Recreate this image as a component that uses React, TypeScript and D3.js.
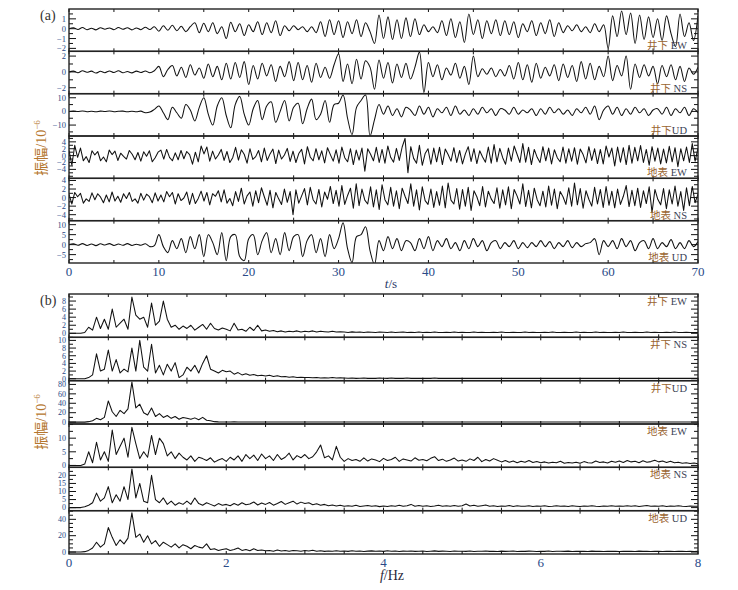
import React from 'react';
import * as d3 from 'd3';

// ---- waveforms, 0-70 s (values x10^-6) ----
const wellEW = [
  0, 0.1, -0.08, 0.12, -0.1, 0.05, -0.12, 0.1, -0.05, 0.08, -0.1, 0.12, -0.06, 0.1, -0.12, 0.08, -0.1, 0.15, -0.08,
  0.2, -0.25, 0.3, -0.15, 0.35, -0.2, 0.25, -0.3,
  0.2, 0.6, -0.4, 0.55, -0.3, 0.6, -0.5, 0.2, -1.0, 0.65, -0.3, 0.5, -0.7, 0.4,
  -0.3, 0.7, -0.6, 0.6, -0.4, 0.8, -0.7,
  0.3, -0.2, 0.3, -0.1, 0.2, -0.3, 0.2,
  -0.4, 0.7, -0.8, 0.9, -0.6, 0.8, -0.9, 0.7, -0.5, 0.9, -0.8, 0.6,
  -0.3, -1.5, 1.4, -1.0,
  1.2, -1.1, 0.9, -1.0, 1.1, -0.8, 1.0, -0.6, 0.4,
  -0.3, 0.2, -0.4,
  0.8, -0.7, 1.0, -0.9, 0.7, -1.4, 1.5, -0.6, 0.9, -1.0, 0.8, -0.5, 0.9, -0.7,
  0.8, -0.6, 0.7, -0.9, 0.5, -0.3, 0.8, -0.7, 0.6, -0.5, 0.9, -0.8, 0.6, -0.4,
  0.3, -0.2, 0.4, -0.3, 0.2, -0.4,
  0.5, -0.3, 0.4,
  -2.0,
  1.3, -0.8, 1.8, -0.6, 1.6, -1.5, 1.4, -1.1, 1.2, -0.9, 1.0, -1.2, 1.3, -0.5,
  -1.8, 1.5, -0.8, 0.6, -1.2, 1.3,
];

const wellNS = [
  0, 0.1, -0.1, 0.15, -0.05, 0.1, -0.15, 0.08, -0.1, 0.12, -0.08, 0.15, -0.1, 0.05, -0.12, 0.1, -0.08, 0.12, -0.1, 0.15,
  0.7, -0.6, 0.3, 0.8, -0.5, 0.6, -0.7, 0.9, -0.4, 0.5, -0.8, 1.0, -0.6, 0.7, -1.0, 1.1, -0.9, 1.2, -0.7, 1.3, -1.6,
  0.8, -0.9, 1.1, -0.5, 0.9, -1.2, 0.7, -0.6, 1.3, -1.1, 1.2, -1.0, 0.8, -1.3, 1.1, -0.7, 0.6, -0.8, 0.9,
  2.3,
  -1.2, 1.0, -1.5, 1.6, -0.9, 1.4, 0.6, -2.2,
  1.5, -0.8, 1.2, -1.4, 1.0, -0.7, 1.1, -0.9, 0.6,
  2.5, -2.6,
  1.2, -0.6, 0.9, -1.0, 0.5, -0.4, 1.1, -0.8, 0.7, -1.6,
  2.0,
  -0.6, 0.4, -0.3, 0.5, -0.6, 0.3, -0.5, 0.8, -0.9,
  1.2, -1.0, 0.9, -1.3, 1.1, -0.8, 0.6, -0.5, 0.9, -1.1, 1.0, -0.7, 0.8, -1.2, 1.3, -0.9, 1.1, -1.0, 0.7, -0.6,
  2.0,
  -1.1, 0.8, -0.5, 2.0,
  -2.2,
  1.0, -0.7, 0.9, -0.5, 0.7, -1.5, 0.8, -0.6, 0.9, -1.0, 0.7, -1.2, 0.5, -0.3, 0.6,
];

const wellUD = [
  0, 0.2, -0.1, 0.3, -0.2, 0.1, -0.3, 0.2, -0.1, 0.3, -0.2, 0.1, 0.2, -0.3, 0.1, -0.2, 0.2,
  -1.0, -0.5, 1.5,
  4, -1, -6, 3, -1, -5, 5, 1, -7,
  3, 10, -2, -10, 4, 10, -3, -12, 5, 11, -2, -10,
  2, 8, -6, 4, 7, -8, 0, 8, -7, 3, 6, -9, 2, 9, -6, -2, 8, -8, 5,
  6, 12, -5, -17, 3, 8, 12, -18, -6, 5, -2,
  4, -3, 2, -4, 3, 1, -3, 4, -2, 3, -4, 2, -1, 3, -3, 4, -2, 1, -3, 2,
  -2, 3, -1, 2, -3, 2, 1, -2, 3, -2, 1, -1, 2, -3, 2, -2, 3, -1, 2, -2, 1, -3, 2, -1, 3, -2,
  4, -6, 1, 4, -2, 3,
  -3, 2, -2, 3, -1, 2, -3, 1, 2, -2, 3, -3, 2, -1, 3, -3, 2, -1,
];

const surfEW = [
  1.5, -2.8, 3.0, -0.5, 2.2, -1.5, -0.3, -2.0, 1.4, 0.2,
  1.2, -1.5, -0.4, -1.8, 1.6, 0.3, 1.3, -1.4, 0.7, -0.2,
  -1.0, 1.5, 0.4, -1.2, 0.9, -1.6, 1.1, -0.2, 1.4, -1.8,
  -0.6, 1.0, 1.6, -1.0, 1.8, -0.5, -1.5, 0.8, -1.2, 1.5,
  -0.9, 1.2, 0.3, -2.5, 1.0, -1.8, 2.8, 0.5, 2.5, -1.6,
  1.3, -1.0, 0.2, 1.8, -1.4, 1.2, -2.0, -0.6, 2.4, -1.3,
  1.7, 0.4, -2.2, 2.0, -1.1, -0.3, 1.5, -1.8, 2.2, -1.4,
  0.5, 1.9, -2.3, 1.6, -1.0, 0.2, 2.1, -1.7, 1.3, -2.0,
  0.6, 1.8, -2.4, 2.6, -0.4, -1.5, 2.0, -1.2, 1.4, -2.1,
  2.3, 0.3, -1.6, 1.7, -2.2, 2.5, -0.6, -1.8, 2.0, -2.6,
  1.6, -1.3, 2.2, -4.5, 2.0, 0.4, -1.5, 2.4, -2.0, 1.8,
  -2.2, 2.8, -0.5, -1.9, 2.1, -1.4, 2.5, 5.0, -5.0, 2.6,
  -0.8, -2.2, 3.0, -2.8, 0.6, 2.0, -2.5, 2.2, -1.8, 2.4,
  -2.6, 1.9, 0.3, -1.6, 2.3, -2.0, 1.5, -2.4, 0.5, 2.6,
  -1.7, 2.0, -2.3, 1.4, -0.4, -1.9, 2.5, -2.2, 3.2, -1.8,
  2.1, -0.6, -2.5, 2.2, -1.6, 2.8, 0.4, -2.0, 3.5, -1.9,
  2.4, -2.6, 1.8, -0.5, -2.0, 2.6, -1.5, 2.2, -2.4, 1.7,
  -0.6, -1.8, 2.5, -2.2, 2.0, -1.6, 2.3, -2.5, 1.9, 0.3,
  -2.1, 2.6, -1.4, 2.0, -2.3, 1.8, -2.4, 2.8, -0.4, 2.2,
  -3.0, 2.5, -1.9, 2.3, -2.6, 3.0, -2.2, 2.4, -1.5, 2.9,
  -2.0, 1.8, -2.8, 2.6, -1.6, 2.2, -2.4, 1.9, -2.1, 2.7,
  -1.8, 2.3, -3.2, 2.0, -1.5, 2.5, -2.0, 3.5, -1.6, 2.2,
];

const surfNS = [
  0.8, -1.5, 1.2, 0.2, 1.0, -1.3, -0.3, -0.9, 1.1, -0.5,
  0.9, 0.1, -1.2, 0.6, -1.0, 1.3, -0.8, 0.3, -1.1, 0.9,
  -0.2, 1.2, -0.9, -0.3, -1.3, 1.0, -0.6, 0.8, 0.2, -1.2,
  1.1, -0.8, 0.6, -1.0, 1.4, 0.2, 1.2, -1.5, 0.9, -0.7,
  -0.1, 1.3, -1.6, 1.0, -1.4, -0.2, 1.5, -0.8, 1.2, -1.7,
  0.9, 0.3, 1.6, -1.0, 1.8, -1.3, -0.2, -1.9, 1.4, -0.9,
  2.2, -1.5, 0.4, 1.3, -2.0, 1.6, -1.2, 2.3, 0.2, -1.8,
  1.7, -2.4, 1.2, -0.3, -1.6, 2.0, -1.1, 1.4, -4.0, 1.8,
  -1.3, 0.4, 2.1, -1.7, 2.4, -0.5, -1.5, 1.9, -2.2, 1.3,
  -0.4, 2.6, -1.4, 1.7, -2.0, 2.8, -1.6, 0.5, 2.2, -2.5,
  3.2, -1.9, 2.0, -0.6, -1.5, 2.5, -2.2, 1.8, -2.8, 3.0,
  -0.5, -1.7, 2.4, -2.0, 1.6, -2.6, 2.2, 0.3, -1.4, 3.2,
  -2.0, 1.8, -2.9, 2.5, -0.7, -1.6, 2.0, -2.3, 1.4, -1.8,
  2.7, -2.4, 3.4, -0.6, -1.5, 2.1, -2.7, 1.9, -2.0, 2.4,
  -3.0, 1.6, 0.2, -1.9, 2.6, -2.2, 1.5, -0.3, -1.4, 2.3,
  -2.5, 1.8, -1.7, 2.5, -2.6, 1.9, 0.4, -1.5, 3.2, -2.1,
  1.7, -2.4, 2.2, -0.5, -1.9, 1.5, -2.2, 2.7, -1.8, 2.0,
  -2.6, 1.4, 0.2, -1.6, 2.3, -2.0, 3.4, -1.7, 2.1, -2.5,
  1.6, -0.4, -2.0, 2.4, -1.5, 1.9, -2.3, 2.6, -1.8, 1.5,
  -2.4, 2.0, -1.6, 0.3, 2.8, -2.1, 1.7, -1.9, 2.2, -2.3,
  1.6, -1.4, 2.5, -3.5, 1.9, -0.4, -1.7, 2.1, -2.6, 1.8,
  -1.5, 2.7, -2.0, 1.4, -3.0, 2.3, -1.9, 2.6, -1.2, 0.8,
];

const surfUD = [
  0, 0.4, -0.3, 0.5, -0.4, 0.3, -0.5, 0.4, -0.2, 0.5, -0.4, 0.3, -0.3, 0.5, -0.4, 0.2, -0.3, 0.4,
  -1.0, -0.5,
  5, -1, -4, 2, -2, 3, -4, 4, -2, 5, -6, 5, 1, -5, 6, -8, 4, 5, -6, -8, 3,
  5, -5, 2, 6, -4, 3, -5, 6, -3, 4, 5, -6, 2, 5, -4, 3, -6, 5, -2, 3,
  11, -2, -9, 4, 5, 9, -3, -10, 2, -3,
  4, -2, 3, -3, 2, 1, -3, 3, -2, 4, -3, 2, -1, 3, -2, 1, -3, 2, -2, 3, -1, 2, -3, 1, 2, -2, 1, -1, 2, -2,
  1, -1.5, 1, -1, 2, -1, 1.5, -2, 1, -1, 2, -1.5, 1, -1, 0.5, 1,
  3, -5, 2, -1,
  2, -2, 3, -1, 2, -3, 1, 2, -2, 3, -2, 1, -1, 2.5, -2, 1, -2, 2, -1, 1.5,
];

// ---- amplitude spectra, 0-8 Hz ----
const specWellEW = [
  0, 0, 0, 0, 0.2, 1.5, 0.8, 4.0, 1.2, 3.5,
  1.0, 6.0, 1.5, 2.5, 3.5, 1.0, 9.0, 4.5, 3.5, 4.0,
  1.5, 7.5, 2.0, 3.0, 8.0, 3.5, 1.5, 2.0, 1.0, 1.8,
  1.2, 2.0, 0.8, 1.5, 2.2, 1.0, 2.5, 1.2, 0.8, 1.3,
  1.0, 0.6, 2.5, 0.8, 1.0, 0.5, 1.5, 0.7, 2.0, 0.6,
  0.8, 0.5, 0.7, 0.4, 0.6, 0.3, 0.5, 0.4, 0.6, 0.3,
  0.5, 0.4, 0.6, 0.3, 0.5, 0.4, 0.3, 0.5, 0.3, 0.4,
  0.3, 0.2, 0.35, 0.25, 0.3, 0.2, 0.3, 0.25, 0.2, 0.3,
  0.25, 0.2, 0.3, 0.2, 0.25, 0.3, 0.2, 0.25, 0.2, 0.3,
  0.2, 0.25, 0.2, 0.3, 0.2, 0.2, 0.25, 0.2, 0.3, 0.2,
  0.25, 0.2, 0.2, 0.3, 0.2, 0.25, 0.2, 0.2, 0.25, 0.2,
  0.3, 0.2, 0.2, 0.25, 0.2, 0.2, 0.3, 0.2, 0.25, 0.2,
  0.2, 0.25, 0.2, 0.3, 0.2, 0.2, 0.25, 0.2, 0.2, 0.3,
  0.2, 0.25, 0.2, 0.2, 0.3, 0.2, 0.25, 0.2, 0.2, 0.25,
  0.2, 0.3, 0.2, 0.2, 0.25, 0.2, 0.2, 0.3, 0.2, 0.25,
  0.2, 0.2, 0.25, 0.2, 0.3, 0.2, 0.2, 0.25, 0.2, 0.2,
  0.2,
];

const specWellNS = [
  0, 0, 0, 0, 0, 0.3, 1.0, 6.5, 2.0, 2.5,
  7.5, 2.0, 5.0, 1.5, 2.5, 1.8, 8.0, 2.0, 10.0, 3.0,
  2.0, 9.0, 1.5, 3.5, 1.0, 3.8, 2.0, 4.2, 0.3, 1.0,
  3.0, 2.0, 3.5, 1.5, 4.0, 6.0, 2.5, 2.0, 1.5, 2.2,
  1.8, 2.0, 1.2, 1.6, 1.0, 1.3, 0.9, 1.1, 0.8, 0.9,
  0.7, 0.9, 0.6, 0.8, 0.5, 0.6, 0.4, 0.5, 0.35, 0.4,
  0.3, 0.35, 0.25, 0.3, 0.2, 0.25, 0.2, 0.3, 0.2, 0.25,
  0.2, 0.15, 0.2, 0.1, 0.15, 0.2, 0.1, 0.15, 0.1, 0.2,
  0.15, 0.1, 0.2, 0.1, 0.15, 0.1, 0.2, 0.1, 0.15, 0.1,
  0.1, 0.15, 0.1, 0.2, 0.1, 0.1, 0.15, 0.1, 0.1, 0.15,
  0.1, 0.1, 0.15, 0.1, 0.1, 0.15, 0.1, 0.1, 0.1, 0.15,
  0.1, 0.15, 0.1, 0.1, 0.1, 0.15, 0.1, 0.1, 0.15, 0.1,
  0.1, 0.1, 0.15, 0.1, 0.1, 0.1, 0.15, 0.1, 0.1, 0.1,
  0.15, 0.1, 0.1, 0.1, 0.15, 0.1, 0.1, 0.1, 0.1, 0.15,
  0.1, 0.1, 0.1, 0.15, 0.1, 0.1, 0.1, 0.1, 0.15, 0.1,
  0.1, 0.1, 0.1, 0.1, 0.15, 0.1, 0.1, 0.1, 0.1, 0.1,
  0.1,
];

const specWellUD = [
  0, 0, 0, 0, 0, 1, 3, 8, 5, 10,
  45, 22, 12, 25, 18, 28, 85, 30, 38, 20,
  15, 30, 12, 18, 10, 14, 8, 12, 6, 10,
  8, 6, 9, 5, 10, 4, 3, 1, 0.5, 0.3,
  0.4, 0.3, 0.5, 0.3, 0.2, 0.4, 0.3, 0.2, 0.3, 0.2,
  0.3, 0.2, 0.3, 0.2, 0.2, 0.3, 0.2, 0.2, 0.3, 0.2,
  0.2, 0.3, 0.2, 0.2, 0.2, 0.3, 0.2, 0.2, 0.2, 0.3,
  0.2, 0.2, 0.3, 0.2, 0.2, 0.2, 0.2, 0.3, 0.2, 0.2,
  0.2, 0.3, 0.2, 0.2, 0.2, 0.2, 0.3, 0.2, 0.2, 0.2,
  0.2, 0.2, 0.3, 0.2, 0.2, 0.2, 0.2, 0.2, 0.3, 0.2,
  0.2, 0.2, 0.2, 0.3, 0.2, 0.2, 0.2, 0.2, 0.2, 0.2,
  0.3, 0.2, 0.2, 0.2, 0.2, 0.2, 0.3, 0.2, 0.2, 0.2,
  0.2, 0.2, 0.2, 0.3, 0.2, 0.2, 0.2, 0.2, 0.2, 0.2,
  0.2, 0.3, 0.2, 0.2, 0.2, 0.2, 0.2, 0.2, 0.3, 0.2,
  0.2, 0.2, 0.2, 0.2, 0.3, 0.2, 0.2, 0.2, 0.2, 0.2,
  0.2, 0.2, 0.3, 0.2, 0.2, 0.2, 0.2, 0.2, 0.2, 0.2,
  0.2,
];

const specSurfEW = [
  0, 0, 0, 0, 0.5, 5.0, 1.0, 8.5, 2.0, 5.0,
  1.5, 13.0, 4.0, 7.0, 10.0, 3.0, 14.0, 8.0, 2.5, 5.0,
  3.0, 11.0, 4.0, 10.0, 8.0, 3.5, 5.0, 2.5, 4.5, 3.0,
  2.0, 3.5, 1.5, 3.0, 2.5, 1.8, 2.8, 1.2, 2.0, 2.5,
  1.5, 3.0, 2.0, 3.5, 1.5, 4.0, 2.5, 3.8, 1.8, 4.2,
  2.5, 3.5, 1.8, 4.0, 2.2, 3.0, 4.5, 2.0, 3.6, 2.8,
  4.0, 2.5, 3.2, 5.0, 7.5, 2.8, 3.5, 2.0, 7.0, 3.0,
  1.5, 2.5, 1.8, 2.2, 1.5, 2.8, 1.6, 2.4, 2.0, 1.4,
  2.6, 1.8, 2.2, 3.0, 1.5, 2.4, 2.0, 1.6, 2.8, 1.9,
  2.2, 1.7, 2.6, 3.2, 1.8, 2.3, 1.5, 2.0, 2.7, 1.6,
  2.0, 1.5, 2.4, 1.8, 3.0, 1.4, 2.2, 1.6, 2.5, 1.9,
  1.3, 1.8, 1.2, 1.6, 1.0, 1.5, 1.2, 1.8, 1.1, 1.4,
  1.0, 1.3, 0.9, 1.2, 1.0, 1.5, 0.8, 1.1, 0.9, 1.2,
  0.8, 1.4, 1.0, 0.9, 1.6, 1.1, 1.3, 0.9, 1.5, 1.2,
  1.6, 1.1, 1.8, 1.3, 1.5, 1.0, 1.7, 1.2, 1.4, 1.9,
  1.3, 1.6, 1.1, 1.5, 1.0, 1.2, 0.8, 1.0, 0.7, 0.9,
  0.6,
];

const specSurfNS = [
  0, 0, 0, 0, 0.5, 1.5, 3.0, 9.0, 4.0, 6.0,
  13.0, 3.0, 8.0, 4.0, 13.0, 5.0, 24.0, 6.0, 15.0, 4.0,
  3.0, 20.0, 5.0, 3.0, 6.0, 2.0, 4.0, 1.5, 3.0, 2.0,
  4.0, 2.0, 6.0, 2.5, 1.5, 3.0, 2.0, 1.0, 2.5, 1.5,
  2.0, 1.2, 2.5, 1.5, 3.0, 1.8, 2.2, 3.5, 1.6, 2.8,
  2.0, 3.2, 1.5, 2.6, 3.8, 2.0, 3.0, 4.0, 2.2, 3.4,
  2.5, 3.0, 1.8, 2.4, 1.5, 2.0, 1.2, 1.6, 1.0, 1.4,
  0.8, 1.2, 0.9, 1.4, 0.7, 1.0, 1.3, 0.8, 1.1, 0.6,
  1.0, 0.7, 1.2, 0.9, 1.5, 0.8, 1.1, 2.0, 0.9, 1.3,
  0.8, 1.2, 0.7, 1.0, 1.4, 0.9, 1.1, 0.8, 1.3, 0.9,
  1.2, 2.2, 1.0, 1.4, 0.8, 1.2, 1.6, 0.9, 1.1, 0.7,
  1.0, 0.8, 1.3, 0.7, 1.1, 0.9, 0.8, 1.2, 0.7, 1.0,
  0.8, 1.1, 0.7, 0.9, 1.2, 0.8, 1.0, 0.7, 1.1, 0.9,
  0.7, 1.0, 0.8, 1.2, 0.9, 0.7, 1.0, 0.8, 1.1, 0.9,
  1.0, 0.8, 1.2, 0.9, 1.1, 0.7, 1.0, 1.3, 0.8, 1.0,
  0.9, 1.1, 0.7, 1.0, 0.8, 1.2, 0.9, 0.7, 1.0, 0.8,
  0.9,
];

const specSurfUD = [
  0, 0, 0, 0, 0.5, 2, 5, 12, 6, 10,
  30, 18, 8, 15, 10, 17, 48, 18, 22, 12,
  20, 10, 14, 7, 12, 9, 6, 10, 5, 9,
  7, 4, 8, 6, 5, 10, 3, 4, 2, 3,
  4, 2, 3, 5, 2, 3, 1.5, 4, 2, 2.5,
  1.5, 2, 1, 2.5, 1.2, 1.8, 1, 2, 1.5, 1,
  1.8, 1.2, 2.2, 1, 1.5, 0.8, 1.3, 1, 1.6, 0.9,
  1.2, 0.8, 1.5, 1, 1.3, 0.7, 1.1, 1.4, 0.9, 1.2,
  0.8, 1.6, 1, 1.2, 0.7, 1.1, 0.9, 1.3, 0.8, 1,
  1.2, 0.7, 1, 1.4, 0.8, 1.1, 0.9, 0.7, 1.2, 0.9,
  1, 0.8, 1.3, 0.7, 1, 0.9, 1.2, 0.8, 1, 0.7,
  1.1, 0.8, 0.9, 1.2, 0.7, 1, 0.8, 1.1, 0.9, 0.7,
  1, 0.8, 1.2, 0.7, 0.9, 1, 0.8, 1.1, 0.7, 0.9,
  0.8, 1, 0.7, 1.1, 0.8, 0.9, 0.7, 1, 0.8, 0.9,
  0.7, 1, 0.8, 0.9, 0.7, 1.1, 0.8, 0.9, 0.7, 0.8,
  0.9, 0.7, 0.8, 1, 0.7, 0.8, 0.9, 0.7, 0.8, 0.7,
  0.8,
];

// ---- axis labels ----
const timeTicks = [0, 10, 20, 30, 40, 50, 60, 70];
const freqTicks = [0, 2, 4, 6, 8];

type Row = {
  cn: string;
  en: string;
  values: number[];
  domain: [number, number];
  ticks: number[];
  minor: number;
  smooth: boolean;
};

const rowsA: Row[] = [
  { cn: '井下', en: ' EW', values: wellEW, domain: [-2.3, 2], ticks: [-2, -1, 0, 1], minor: 0.5, smooth: true },
  { cn: '井下', en: ' NS', values: wellNS, domain: [-2.75, 2.6], ticks: [-2, 0, 2], minor: 1, smooth: true },
  { cn: '井下', en: 'UD', values: wellUD, domain: [-18, 13], ticks: [-10, 0, 10], minor: 5, smooth: true },
  { cn: '地表', en: ' EW', values: surfEW, domain: [-6.6, 5.7], ticks: [-4, -2, 0, 2, 4], minor: 1, smooth: false },
  { cn: '地表', en: ' NS', values: surfNS, domain: [-5.4, 4.5], ticks: [-4, -2, 0, 2, 4], minor: 1, smooth: false },
  { cn: '地表', en: ' UD', values: surfUD, domain: [-9.2, 12], ticks: [-5, 0, 5, 10], minor: 2.5, smooth: true },
];

const rowsB: Row[] = [
  { cn: '井下', en: ' EW', values: specWellEW, domain: [-1, 9.75], ticks: [0, 2, 4, 6, 8], minor: 1, smooth: false },
  { cn: '井下', en: ' NS', values: specWellNS, domain: [-0.5, 10.8], ticks: [0, 2, 4, 6, 8, 10], minor: 1, smooth: false },
  { cn: '井下', en: 'UD', values: specWellUD, domain: [-4, 88], ticks: [0, 20, 40, 60, 80], minor: 10, smooth: false },
  { cn: '地表', en: ' EW', values: specSurfEW, domain: [-0.7, 15.2], ticks: [0, 5, 10], minor: 2.5, smooth: false },
  { cn: '地表', en: ' NS', values: specSurfNS, domain: [-1.9, 25], ticks: [0, 5, 10, 15, 20], minor: 2.5, smooth: false },
  { cn: '地表', en: ' UD', values: specSurfUD, domain: [-2.4, 50.6], ticks: [0, 20, 40], minor: 5, smooth: false },
];

const LEFT = 69;
const RIGHT = 698;
const SERIF = '"Liberation Serif", "Times New Roman", serif';
const CJK = '"Noto Sans CJK SC", sans-serif';
const NUM_COLOR = '#2a4a88';
const CN_COLOR = '#9a6430';
const INK = '#111';

const fmt = (v: number) => (v < 0 ? `\u2212${-v}` : `${v}`);

type StripProps = {
  row: Row;
  top: number;
  h: number;
  x: d3.ScaleLinear<number, number>;
  span: number;
  xStep: number;
  id: string;
  labelAtTop: boolean;
  tickFont: number;
};

const Strip = ({ row, top, h, x, span, xStep, id, labelAtTop, tickFont }: StripProps) => {
  const y = d3.scaleLinear().domain(row.domain).range([top + h, top]);
  const dx = span / (row.values.length - 1);
  const line = d3.line<number>().x((_, i) => x(i * dx)).y(d => y(d));
  if (row.smooth) line.curve(d3.curveCatmullRom.alpha(0.5));
  const path = line(row.values) || '';
  const minors = d3
    .range(Math.ceil(row.domain[0] / row.minor) * row.minor, row.domain[1], row.minor)
    .filter(v => !row.ticks.some(t => Math.abs(t - v) < 1e-9));
  const xt = d3.range(0, span + 1e-9, xStep);
  const bottom = top + h;

  return (
    <g>
      <clipPath id={id}>
        <rect x={LEFT} y={top} width={RIGHT - LEFT} height={h} />
      </clipPath>
      <path d={path} fill="none" stroke={INK} strokeWidth={1.05} strokeLinejoin="round" clipPath={`url(#${id})`} />
      <g stroke={INK} strokeWidth={1}>
        {row.ticks.map(t => (
          <g key={`M${t}`}>
            <line x1={LEFT} x2={LEFT + 7} y1={y(t)} y2={y(t)} />
            <line x1={RIGHT} x2={RIGHT - 7} y1={y(t)} y2={y(t)} />
          </g>
        ))}
        {minors.map(t => (
          <g key={`m${t}`}>
            <line x1={LEFT} x2={LEFT + 4} y1={y(t)} y2={y(t)} />
            <line x1={RIGHT} x2={RIGHT - 4} y1={y(t)} y2={y(t)} />
          </g>
        ))}
        {xt.map(v => (
          <g key={`x${v}`}>
            <line x1={x(v)} x2={x(v)} y1={top} y2={top + 3} />
            <line x1={x(v)} x2={x(v)} y1={bottom} y2={bottom - 3} />
          </g>
        ))}
      </g>
      {row.ticks.map(t => (
        <text
          key={`l${t}`}
          x={LEFT - 3}
          y={y(t)}
          dy="0.35em"
          textAnchor="end"
          fontSize={tickFont}
          fontFamily={SERIF}
          fill={NUM_COLOR}
        >
          {fmt(t)}
        </text>
      ))}
      <rect x={LEFT} y={top} width={RIGHT - LEFT} height={h} fill="none" stroke="#222" strokeWidth={1.4} />
      <text x={RIGHT - 11} y={labelAtTop ? top + 11 : bottom - 2} textAnchor="end" fontSize={10.5}>
        <tspan fontFamily={CJK} fill={CN_COLOR}>{row.cn}</tspan>
        <tspan fontFamily={SERIF} fill="#3a3f55">{row.en}</tspan>
      </text>
    </g>
  );
};

const YTitle = ({ cx, cy }: { cx: number; cy: number }) => (
  <text
    transform={`translate(${cx},${cy}) rotate(-90)`}
    textAnchor="middle"
    dy="0.35em"
    fontSize={14}
    fill="#b5762e"
  >
    <tspan fontFamily={CJK}>振幅</tspan>
    <tspan fontFamily={SERIF}>/10</tspan>
    <tspan fontFamily={SERIF} fontSize={9} dy="-6">{'\u22126'}</tspan>
  </text>
);

const Panel = ({
  rows, top, bottom, span, xStep, labels, prefix, labelAtTop, tickFont,
}: {
  rows: Row[]; top: number; bottom: number; span: number; xStep: number;
  labels: number[]; prefix: string; labelAtTop: boolean; tickFont: number;
}) => {
  const x = d3.scaleLinear().domain([0, span]).range([LEFT, RIGHT]);
  const h = (bottom - top) / rows.length;
  return (
    <g>
      {rows.map((r, i) => (
        <Strip
          key={i}
          row={r}
          top={top + i * h}
          h={h}
          x={x}
          span={span}
          xStep={xStep}
          id={`${prefix}${i}`}
          labelAtTop={labelAtTop}
          tickFont={tickFont}
        />
      ))}
      {labels.map(v => (
        <text key={v} x={x(v)} y={bottom + 13} textAnchor="middle" fontSize={13} fontFamily={SERIF} fill={NUM_COLOR}>
          {v}
        </text>
      ))}
    </g>
  );
};

export default function App() {
  return (
    <svg width={738} height={590} style={{ display: 'block', position: 'absolute', left: 0, top: 0, background: '#fff' }}>
      <rect width={738} height={590} fill="#fff" />
      <text x={40} y={20} fontSize={14} fontFamily={SERIF} fill="#333">(a)</text>
      <text x={40} y={305} fontSize={14} fontFamily={SERIF} fill="#333">(b)</text>
      <Panel rows={rowsA} top={9} bottom={263} span={70} xStep={5} labels={timeTicks} prefix="ca" labelAtTop={false} tickFont={8.5} />
      <Panel rows={rowsB} top={294} bottom={554} span={8} xStep={0.5} labels={freqTicks} prefix="cb" labelAtTop={true} tickFont={8} />
      <YTitle cx={41} cy={148} />
      <YTitle cx={41} cy={422} />
      <text x={391} y={288} textAnchor="middle" fontSize={13} fontFamily={SERIF} fill="#2a3a6a">
        <tspan fontStyle="italic">t</tspan>/s
      </text>
      <text x={392} y={580} textAnchor="middle" fontSize={14} fontFamily={SERIF} fill="#2a2a3a">
        <tspan fontStyle="italic">f</tspan>/Hz
      </text>
    </svg>
  );
}
